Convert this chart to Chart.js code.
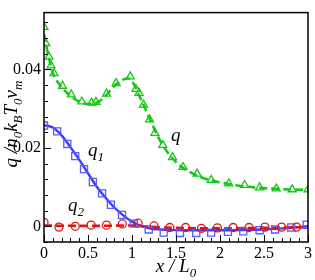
<!DOCTYPE html>
<html>
<head>
<meta charset="utf-8">
<script src="https://cdn.jsdelivr.net/npm/chart.js@4"></script>
<style>
  html, body { margin: 0; padding: 0; background: #fff; }
  #wrap { position: relative; width: 315px; height: 280px; }
</style>
</head>
<body>
<div id="wrap"><canvas id="c"></canvas></div>
<script>
// q (total) — triangles and dashed fit
const qMarkX = [0, 0.02, 0.057, 0.08, 0.114, 0.21, 0.31, 0.43, 0.54, 0.59, 0.71, 0.82, 0.98, 1.045, 1.08, 1.13, 1.2, 1.26, 1.35, 1.46, 1.58, 1.74, 1.9, 2.1, 2.28, 2.45, 2.64, 2.82, 3.0];
const qMarkY = [0.0508, 0.0467, 0.0432, 0.041, 0.039, 0.0358, 0.0336, 0.0318, 0.0315, 0.0317, 0.0338, 0.0365, 0.0382, 0.0350, 0.0340, 0.031, 0.0272, 0.0238, 0.0207, 0.0176, 0.0151, 0.0134, 0.0118, 0.0109, 0.0105, 0.0099, 0.0096, 0.0094, 0.0094];
const qLineX = [0, 0.05, 0.1, 0.2, 0.3, 0.4, 0.5, 0.6, 0.7, 0.8, 0.9, 0.95, 1.0, 1.1, 1.2, 1.3, 1.4, 1.5, 1.6, 1.8, 2.0, 2.2, 2.4, 2.6, 2.8, 3.0];
const qLineY = [0.0490, 0.0435, 0.0392, 0.0355, 0.0333, 0.0318, 0.0312, 0.0315, 0.0333, 0.0358, 0.0374, 0.0377, 0.0370, 0.0325, 0.0275, 0.0227, 0.0190, 0.0164, 0.0146, 0.0124, 0.0112, 0.0104, 0.0099, 0.0096, 0.0094, 0.0093];

// q1 — squares and solid fit
const q1MarkX = [0, 0.15, 0.265, 0.355, 0.455, 0.555, 0.66, 0.76, 0.886, 1.02, 1.19, 1.36, 1.545, 1.73, 1.9, 2.09, 2.265, 2.45, 2.625, 2.81, 2.985];
const q1MarkY = [0.0257, 0.0242, 0.0210, 0.0179, 0.0146, 0.0113, 0.0084, 0.0055, 0.0029, 0.0007, -0.0008, -0.0016, -0.0017, -0.0017, -0.0016, -0.0014, -0.0013, -0.0010, -0.0008, -0.0003, 0.0004];
const q1LineX = [0, 0.1, 0.2, 0.3, 0.4, 0.5, 0.6, 0.7, 0.8, 0.9, 1.0, 1.1, 1.2, 1.4, 1.6, 2.0, 2.5, 2.8, 3.0];
const q1LineY = [0.0258, 0.0252, 0.0232, 0.0202, 0.0170, 0.0135, 0.0101, 0.0073, 0.0048, 0.0028, 0.0012, 0.0001, -0.0005, -0.0009, -0.0010, -0.0010, -0.0008, -0.0004, 0.0000];

// q2 — circles and dashed fit
const q2MarkX = [0, 0.17, 0.356, 0.535, 0.71, 0.89, 1.07, 1.25, 1.43, 1.61, 1.79, 1.97, 2.15, 2.33, 2.51, 2.7, 2.87];
const q2MarkY = [0.0010, -0.0002, 0.0000, 0.0003, 0.0003, 0.0006, 0.0008, 0.0001, -0.0003, -0.0003, -0.0005, -0.0004, -0.0003, -0.0003, -0.0002, -0.0002, -0.0002];
const q2LineX = [0, 0.5, 1.0, 1.2, 1.5, 2.0, 2.5, 3.0];
const q2LineY = [0.0002, 0.0001, 0.0002, -0.0001, -0.0004, -0.0005, -0.0004, -0.0002];

// axis ticks
const xMajorTicks = [0, 0.5, 1, 1.5, 2, 2.5, 3];
const xTickLabels = ['0', '0.5', '1', '1.5', '2', '2.5', '3'];
const yMajorTicks = [0, 0.02, 0.04];
const yTickLabels = ['0', '0.02', '0.04'];
const xMinorStep = 0.1;
const yMinorStep = 0.004;

const X_MIN = 0, X_MAX = 3, Y_MIN = -0.004, Y_MAX = 0.0545;

const GREEN = 'rgb(20, 200, 20)';
const BLUE = 'rgb(60, 60, 255)';
const BLUE_MK = 'rgb(90, 90, 255)';
const RED = 'rgb(225, 20, 20)';
const SERIF = "'Liberation Serif', 'DejaVu Serif', serif";

const pts = (xs, ys) => xs.map((x, i) => ({ x, y: ys[i] }));

function stepTicks(min, max, step) {
  const out = [];
  const n = Math.round((max - min) / step);
  for (let i = 0; i <= n; i++) out.push(+(min + i * step).toFixed(6));
  return out;
}
const xMinorTicks = stepTicks(X_MIN, X_MAX, xMinorStep);
const yMinorTicks = stepTicks(Y_MIN, 0.052, yMinorStep);

const isMajor = (v, list) => list.some((m) => Math.abs(m - v) < 1e-9);

// draw a string made of parts, some subscripted
function drawRich(ctx, parts, x, y, size, subSize) {
  let cx = x;
  parts.forEach((p) => {
    ctx.font = `italic ${p.sub ? subSize : size}px ${SERIF}`;
    ctx.fillText(p.t, cx, y + (p.sub ? size * 0.28 : 0));
    cx += ctx.measureText(p.t).width;
  });
}
function richWidth(ctx, parts, size, subSize) {
  return parts.reduce((w, p) => {
    ctx.font = `italic ${p.sub ? subSize : size}px ${SERIF}`;
    return w + ctx.measureText(p.t).width;
  }, 0);
}

const decorPlugin = {
  id: 'decor',
  afterDraw(chart) {
    const { ctx, chartArea: a, scales } = chart;
    const xs = scales.x, ys = scales.y;
    ctx.save();
    ctx.strokeStyle = '#000';
    ctx.fillStyle = '#000';

    // ticks, drawn inward from bottom and left
    ctx.lineWidth = 1;
    ctx.beginPath();
    xMinorTicks.forEach((v) => {
      const px = Math.round(xs.getPixelForValue(v)) + 0.5;
      const len = isMajor(v, xMajorTicks) ? 7 : 4;
      ctx.moveTo(px, a.bottom);
      ctx.lineTo(px, a.bottom - len);
    });
    yMinorTicks.forEach((v) => {
      const py = Math.round(ys.getPixelForValue(v)) + 0.5;
      const len = isMajor(v, yMajorTicks) ? 7 : 4;
      ctx.moveTo(a.left, py);
      ctx.lineTo(a.left + len, py);
    });
    ctx.stroke();

    // frame
    ctx.lineWidth = 1.5;
    ctx.strokeRect(a.left, a.top, a.right - a.left, a.bottom - a.top);

    // curve labels
    ctx.textAlign = 'left';
    ctx.textBaseline = 'alphabetic';
    drawRich(ctx, [{ t: 'q' }], 171, 141, 19, 13);
    drawRich(ctx, [{ t: 'q' }, { t: '1', sub: true }], 88, 156, 19, 13);
    drawRich(ctx, [{ t: 'q' }, { t: '2', sub: true }], 68, 211, 19, 13);

    // x axis title
    const xParts = [{ t: 'x' }, { t: ' / ' }, { t: 'L' }, { t: '0', sub: true }];
    const xw = richWidth(ctx, xParts, 19, 13);
    drawRich(ctx, xParts, 176 - xw / 2, 272, 19, 13);

    // y axis title, rotated
    const yParts = [
      { t: 'q' }, { t: ' /' }, { t: 'n' }, { t: '0', sub: true },
      { t: 'k' }, { t: 'B', sub: true }, { t: 'T' }, { t: '0', sub: true },
      { t: 'v' }, { t: 'm', sub: true },
    ];
    const yw = richWidth(ctx, yParts, 19, 13);
    ctx.translate(17, 124);
    ctx.rotate(-Math.PI / 2);
    drawRich(ctx, yParts, -yw / 2, 0, 19, 13);
    ctx.restore();
  },
};

new Chart(document.getElementById('c'), {
  type: 'scatter',
  data: {
    datasets: [
      {
        label: 'q fit', data: pts(qLineX, qLineY), showLine: true, cubicInterpolationMode: 'monotone',
        borderColor: GREEN, borderWidth: 2.6, borderDash: [8, 4], pointRadius: 0, order: 3,
      },
      {
        label: 'q1 fit', data: pts(q1LineX, q1LineY), showLine: true, cubicInterpolationMode: 'monotone',
        borderColor: BLUE, borderWidth: 2.4, pointRadius: 0, order: 3,
      },
      {
        label: 'q2 fit', data: pts(q2LineX, q2LineY), showLine: true, cubicInterpolationMode: 'monotone',
        borderColor: RED, borderWidth: 2.6, borderDash: [8, 4], pointRadius: 0, order: 2,
      },
      {
        label: 'q', data: pts(qMarkX, qMarkY), pointStyle: 'triangle', pointRadius: 4.6,
        borderColor: GREEN, backgroundColor: 'rgba(255,255,255,0)', borderWidth: 1.3, order: 1,
      },
      {
        label: 'q1', data: pts(q1MarkX, q1MarkY), pointStyle: 'rect', pointRadius: 5,
        borderColor: BLUE_MK, backgroundColor: 'rgba(255,255,255,0)', borderWidth: 1.3, order: 1,
      },
      {
        label: 'q2', data: pts(q2MarkX, q2MarkY), pointStyle: 'circle', pointRadius: 4,
        borderColor: RED, backgroundColor: 'rgba(255,255,255,0)', borderWidth: 1.3, order: 0,
      },
    ],
  },
  options: {
    responsive: true,
    maintainAspectRatio: false,
    animation: false,
    events: [],
    layout: { padding: { top: 8, right: 7, left: 0, bottom: 0 } },
    plugins: { legend: { display: false }, tooltip: { enabled: false } },
    scales: {
      x: {
        type: 'linear', min: X_MIN, max: X_MAX,
        afterBuildTicks: (s) => { s.ticks = xMajorTicks.map((v) => ({ value: v })); },
        afterFit: (s) => { s.height = 38; },
        grid: { display: false, drawTicks: false },
        border: { display: false },
        ticks: {
          padding: 2, color: '#000', maxRotation: 0, autoSkip: false,
          font: { family: SERIF, size: 16 },
          callback: (v) => xTickLabels[xMajorTicks.findIndex((m) => Math.abs(m - v) < 1e-9)],
        },
      },
      y: {
        type: 'linear', min: Y_MIN, max: Y_MAX,
        afterBuildTicks: (s) => { s.ticks = yMajorTicks.map((v) => ({ value: v })); },
        afterFit: (s) => { s.width = 44; },
        grid: { display: false, drawTicks: false },
        border: { display: false },
        ticks: {
          padding: 3, color: '#000', autoSkip: false,
          font: { family: SERIF, size: 16 },
          callback: (v) => yTickLabels[yMajorTicks.findIndex((m) => Math.abs(m - v) < 1e-9)],
        },
      },
    },
  },
  plugins: [decorPlugin],
});
</script>
</body>
</html>
